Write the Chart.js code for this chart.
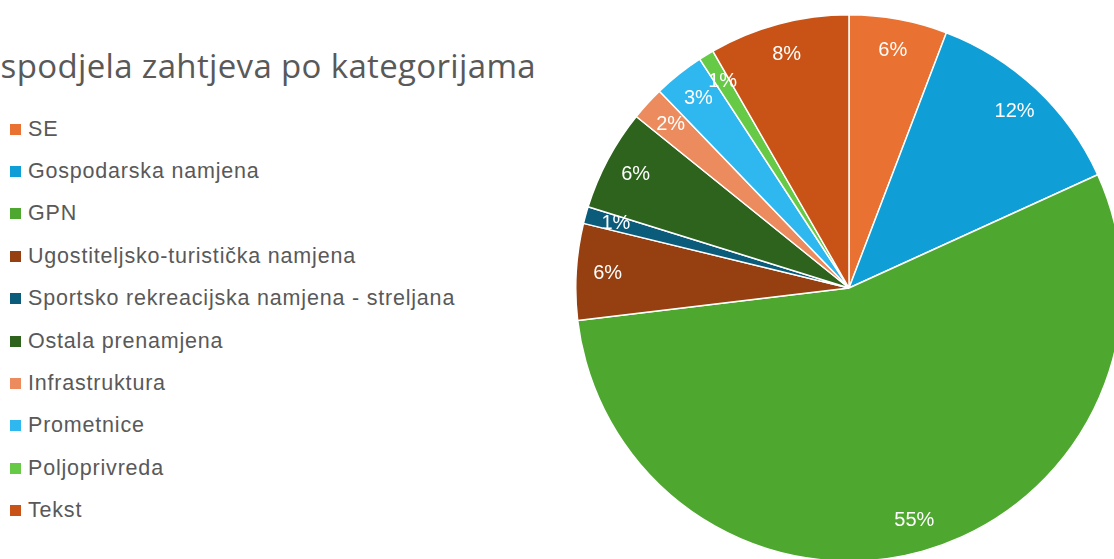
<!DOCTYPE html>
<html>
<head>
<meta charset="utf-8">
<script src="https://cdn.jsdelivr.net/npm/chart.js@4"></script>
<style>
  html, body { margin: 0; padding: 0; background: #fff; overflow: hidden; width: 1114px; height: 559px; }
  #title {
    position: absolute; right: 578px; top: 43px; white-space: nowrap;
    font-family: 'Open Sans', sans-serif; font-size: 33px; letter-spacing: 0.35px; color: #595959;
  }
  #legend { position: absolute; left: 10px; top: 108px; font-family: 'Liberation Sans', Arial, sans-serif; font-size: 21.5px; letter-spacing: 0.8px; color: #595959; }
  #legend .item { height: 42.4px; display: flex; align-items: center; white-space: nowrap; }
  #legend .box { width: 11px; height: 11px; margin-right: 7px; }
  #pie { position: absolute; left: 575px; top: 14px; }
</style>
</head>
<body>
<div id="title">Raspodjela zahtjeva po kategorijama</div>
<div id="legend"></div>
<canvas id="pie" width="548" height="548"></canvas>
<script>
var categories = ['SE', 'Gospodarska namjena', 'GPN', 'Ugostiteljsko-turistička namjena',
  'Sportsko rekreacijska namjena - streljana', 'Ostala prenamjena', 'Infrastruktura',
  'Prometnice', 'Poljoprivreda', 'Tekst'];
var shares = [5.8, 12.4, 54.9, 5.7, 1.0, 6.0, 2.0, 3.0, 0.9, 8.3];
var colors = ['#E97132', '#0F9ED5', '#4EA72E', '#963F10', '#0B5B7B', '#2E631D',
  '#EB8B5E', '#2EB8EF', '#66CA46', '#C95316'];

// legend built from the same arrays
var legendEl = document.getElementById('legend');
for (var i = 0; i < categories.length; i++) {
  var row = document.createElement('div');
  row.className = 'item';
  row.innerHTML = '<span class="box" style="background:' + colors[i] + '"></span><span>' + categories[i] + '</span>';
  legendEl.appendChild(row);
}

// percentage labels inside the slices, near the edge
var pctLabels = {
  id: 'pctLabels',
  afterDatasetsDraw: function(chart) {
    var ctx = chart.ctx;
    var meta = chart.getDatasetMeta(0);
    var data = chart.data.datasets[0].data;
    var total = data.reduce(function(a, b) { return a + b; }, 0);
    ctx.save();
    ctx.fillStyle = '#ffffff';
    ctx.font = '20px "Liberation Sans", Arial, sans-serif';
    ctx.textAlign = 'center';
    ctx.textBaseline = 'middle';
    meta.data.forEach(function(arc, i) {
      var p = arc.getProps(['x', 'y', 'startAngle', 'endAngle', 'outerRadius'], true);
      var mid = (p.startAngle + p.endAngle) / 2;
      var r = p.outerRadius * 0.885;
      ctx.fillText(Math.round(data[i] / total * 100) + '%', p.x + Math.cos(mid) * r, p.y + Math.sin(mid) * r);
    });
    ctx.restore();
  }
};

var ctx = document.getElementById('pie');
var myChart = new Chart(ctx, {
  type: 'pie',
  data: {
    labels: categories,
    datasets: [{
      data: shares,
      backgroundColor: colors,
      borderColor: '#ffffff',
      borderWidth: 1.5
    }]
  },
  options: {
    responsive: false,
    animation: false,
    layout: { padding: 0 },
    plugins: {
      legend: { display: false },
      title: { display: false },
      tooltip: { enabled: false }
    }
  },
  plugins: [pctLabels]
});
</script>
</body>
</html>
